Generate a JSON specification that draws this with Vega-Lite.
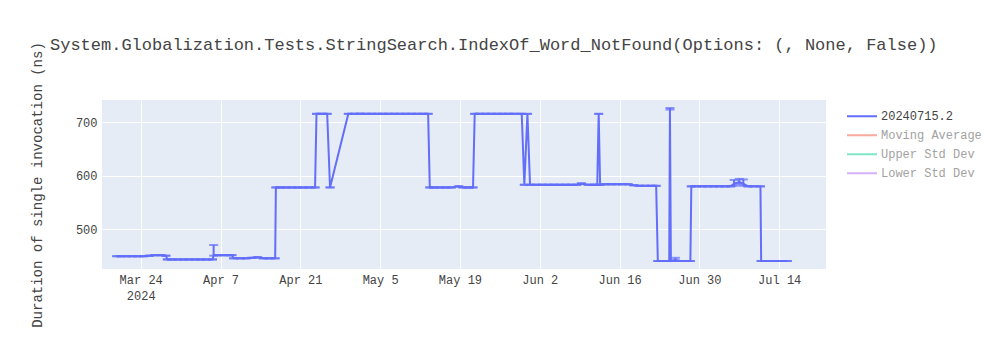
{
 "$schema": "https://vega.github.io/schema/vega-lite/v6.json",
 "width": 724,
 "height": 169,
 "autosize": {"type": "none"},
 "padding": {"left": 102, "top": 100, "right": 174, "bottom": 81},
 "background": "white",
 "config": {"view": {"fill": "#E5ECF6", "stroke": null}, "font": "Liberation Mono"},
 "title": {"text": "System.Globalization.Tests.StringSearch.IndexOf_Word_NotFound(Options: (, None, False))", "anchor": "start", "frame": "group", "font": "Liberation Mono", "fontSize": 17, "fontWeight": "normal", "color": "#444", "dx": -52, "offset": 0, "dy": 25, "baseline": "alphabetic"},
 "data": {"values": [
  {"t": "2024-03-19T19:00", "v": 449, "lo": 449, "hi": 449},
  {"t": "2024-03-20T12:00", "v": 449, "lo": 449, "hi": 449},
  {"t": "2024-03-21T12:00", "v": 449, "lo": 449, "hi": 449},
  {"t": "2024-03-22T12:00", "v": 449, "lo": 449, "hi": 449},
  {"t": "2024-03-23T12:00", "v": 449, "lo": 449, "hi": 449},
  {"t": "2024-03-24T12:00", "v": 449, "lo": 449, "hi": 449},
  {"t": "2024-03-25T12:00", "v": 450, "lo": 450, "hi": 450},
  {"t": "2024-03-26T12:00", "v": 451, "lo": 451, "hi": 451},
  {"t": "2024-03-27T12:00", "v": 451, "lo": 451, "hi": 451},
  {"t": "2024-03-28T10:00", "v": 450, "lo": 450, "hi": 450},
  {"t": "2024-03-28T16:00", "v": 443, "lo": 443, "hi": 443},
  {"t": "2024-03-29T12:00", "v": 443, "lo": 443, "hi": 443},
  {"t": "2024-03-30T12:00", "v": 443, "lo": 443, "hi": 443},
  {"t": "2024-03-31T12:00", "v": 443, "lo": 443, "hi": 443},
  {"t": "2024-04-01T12:00", "v": 443, "lo": 443, "hi": 443},
  {"t": "2024-04-02T12:00", "v": 443, "lo": 443, "hi": 443},
  {"t": "2024-04-03T12:00", "v": 443, "lo": 443, "hi": 443},
  {"t": "2024-04-04T12:00", "v": 443, "lo": 443, "hi": 443},
  {"t": "2024-04-05T14:00", "v": 443, "lo": 443, "hi": 443},
  {"t": "2024-04-05T19:00", "v": 451, "lo": 450, "hi": 470},
  {"t": "2024-04-06T12:00", "v": 451, "lo": 451, "hi": 451},
  {"t": "2024-04-07T12:00", "v": 451, "lo": 451, "hi": 451},
  {"t": "2024-04-08T12:00", "v": 451, "lo": 451, "hi": 451},
  {"t": "2024-04-09T00:00", "v": 451, "lo": 451, "hi": 451},
  {"t": "2024-04-09T07:00", "v": 445, "lo": 445, "hi": 445},
  {"t": "2024-04-10T12:00", "v": 445, "lo": 445, "hi": 445},
  {"t": "2024-04-11T12:00", "v": 445, "lo": 445, "hi": 445},
  {"t": "2024-04-12T12:00", "v": 446, "lo": 446, "hi": 446},
  {"t": "2024-04-13T12:00", "v": 447, "lo": 447, "hi": 447},
  {"t": "2024-04-14T12:00", "v": 445, "lo": 445, "hi": 445},
  {"t": "2024-04-15T12:00", "v": 445, "lo": 445, "hi": 445},
  {"t": "2024-04-16T14:00", "v": 445, "lo": 445, "hi": 445},
  {"t": "2024-04-16T17:00", "v": 578, "lo": 578, "hi": 578},
  {"t": "2024-04-17T12:00", "v": 578, "lo": 578, "hi": 578},
  {"t": "2024-04-18T12:00", "v": 578, "lo": 578, "hi": 578},
  {"t": "2024-04-19T12:00", "v": 578, "lo": 578, "hi": 578},
  {"t": "2024-04-20T12:00", "v": 578, "lo": 578, "hi": 578},
  {"t": "2024-04-21T12:00", "v": 578, "lo": 578, "hi": 578},
  {"t": "2024-04-22T12:00", "v": 578, "lo": 578, "hi": 578},
  {"t": "2024-04-23T14:00", "v": 578, "lo": 578, "hi": 578},
  {"t": "2024-04-23T20:00", "v": 716, "lo": 716, "hi": 716},
  {"t": "2024-04-24T19:00", "v": 716, "lo": 716, "hi": 716},
  {"t": "2024-04-25T17:00", "v": 716, "lo": 716, "hi": 716},
  {"t": "2024-04-26T05:00", "v": 578, "lo": 578, "hi": 578},
  {"t": "2024-04-29T10:00", "v": 716, "lo": 716, "hi": 716},
  {"t": "2024-04-30T12:00", "v": 716, "lo": 716, "hi": 716},
  {"t": "2024-05-01T12:00", "v": 716, "lo": 716, "hi": 716},
  {"t": "2024-05-02T12:00", "v": 716, "lo": 716, "hi": 716},
  {"t": "2024-05-03T12:00", "v": 716, "lo": 716, "hi": 716},
  {"t": "2024-05-04T12:00", "v": 716, "lo": 716, "hi": 716},
  {"t": "2024-05-05T12:00", "v": 716, "lo": 716, "hi": 716},
  {"t": "2024-05-06T12:00", "v": 716, "lo": 716, "hi": 716},
  {"t": "2024-05-07T12:00", "v": 716, "lo": 716, "hi": 716},
  {"t": "2024-05-08T12:00", "v": 716, "lo": 716, "hi": 716},
  {"t": "2024-05-09T12:00", "v": 716, "lo": 716, "hi": 716},
  {"t": "2024-05-10T12:00", "v": 716, "lo": 716, "hi": 716},
  {"t": "2024-05-11T12:00", "v": 716, "lo": 716, "hi": 716},
  {"t": "2024-05-12T12:00", "v": 716, "lo": 716, "hi": 716},
  {"t": "2024-05-13T10:00", "v": 716, "lo": 716, "hi": 716},
  {"t": "2024-05-13T17:00", "v": 578, "lo": 578, "hi": 578},
  {"t": "2024-05-14T12:00", "v": 578, "lo": 578, "hi": 578},
  {"t": "2024-05-15T12:00", "v": 578, "lo": 578, "hi": 578},
  {"t": "2024-05-16T12:00", "v": 578, "lo": 578, "hi": 578},
  {"t": "2024-05-17T12:00", "v": 578, "lo": 578, "hi": 578},
  {"t": "2024-05-18T19:00", "v": 580, "lo": 580, "hi": 580},
  {"t": "2024-05-19T12:00", "v": 578, "lo": 578, "hi": 578},
  {"t": "2024-05-20T12:00", "v": 578, "lo": 578, "hi": 578},
  {"t": "2024-05-21T07:00", "v": 578, "lo": 578, "hi": 578},
  {"t": "2024-05-21T14:00", "v": 716, "lo": 716, "hi": 716},
  {"t": "2024-05-22T12:00", "v": 716, "lo": 716, "hi": 716},
  {"t": "2024-05-23T12:00", "v": 716, "lo": 716, "hi": 716},
  {"t": "2024-05-24T12:00", "v": 716, "lo": 716, "hi": 716},
  {"t": "2024-05-25T12:00", "v": 716, "lo": 716, "hi": 716},
  {"t": "2024-05-26T12:00", "v": 716, "lo": 716, "hi": 716},
  {"t": "2024-05-27T12:00", "v": 716, "lo": 716, "hi": 716},
  {"t": "2024-05-28T12:00", "v": 716, "lo": 716, "hi": 716},
  {"t": "2024-05-29T20:00", "v": 716, "lo": 716, "hi": 716},
  {"t": "2024-05-30T07:00", "v": 583, "lo": 583, "hi": 583},
  {"t": "2024-05-30T20:00", "v": 716, "lo": 716, "hi": 716},
  {"t": "2024-05-31T07:00", "v": 583, "lo": 583, "hi": 583},
  {"t": "2024-06-01T12:00", "v": 583, "lo": 583, "hi": 583},
  {"t": "2024-06-02T12:00", "v": 583, "lo": 583, "hi": 583},
  {"t": "2024-06-03T12:00", "v": 583, "lo": 583, "hi": 583},
  {"t": "2024-06-04T12:00", "v": 583, "lo": 583, "hi": 583},
  {"t": "2024-06-05T12:00", "v": 583, "lo": 583, "hi": 583},
  {"t": "2024-06-06T12:00", "v": 583, "lo": 583, "hi": 583},
  {"t": "2024-06-07T12:00", "v": 583, "lo": 583, "hi": 583},
  {"t": "2024-06-08T12:00", "v": 583, "lo": 583, "hi": 583},
  {"t": "2024-06-09T07:00", "v": 585, "lo": 585, "hi": 586},
  {"t": "2024-06-10T12:00", "v": 583, "lo": 583, "hi": 583},
  {"t": "2024-06-11T12:00", "v": 583, "lo": 583, "hi": 583},
  {"t": "2024-06-12T02:00", "v": 583, "lo": 583, "hi": 583},
  {"t": "2024-06-12T08:00", "v": 716, "lo": 716, "hi": 716},
  {"t": "2024-06-12T14:00", "v": 583, "lo": 583, "hi": 583},
  {"t": "2024-06-13T12:00", "v": 584, "lo": 584, "hi": 584},
  {"t": "2024-06-14T12:00", "v": 584, "lo": 584, "hi": 584},
  {"t": "2024-06-15T12:00", "v": 584, "lo": 584, "hi": 584},
  {"t": "2024-06-16T12:00", "v": 584, "lo": 584, "hi": 584},
  {"t": "2024-06-17T12:00", "v": 584, "lo": 584, "hi": 584},
  {"t": "2024-06-18T12:00", "v": 582, "lo": 582, "hi": 582},
  {"t": "2024-06-19T12:00", "v": 581, "lo": 581, "hi": 581},
  {"t": "2024-06-20T12:00", "v": 581, "lo": 581, "hi": 581},
  {"t": "2024-06-21T12:00", "v": 581, "lo": 581, "hi": 581},
  {"t": "2024-06-22T10:00", "v": 581, "lo": 581, "hi": 581},
  {"t": "2024-06-22T17:00", "v": 440, "lo": 440, "hi": 440},
  {"t": "2024-06-23T12:00", "v": 440, "lo": 440, "hi": 440},
  {"t": "2024-06-24T07:00", "v": 440, "lo": 440, "hi": 440},
  {"t": "2024-06-24T17:00", "v": 440, "lo": 440, "hi": 440},
  {"t": "2024-06-24T20:00", "v": 725, "lo": 724, "hi": 727},
  {"t": "2024-06-25T00:00", "v": 440, "lo": 440, "hi": 440},
  {"t": "2024-06-25T19:00", "v": 442, "lo": 441, "hi": 446},
  {"t": "2024-06-26T12:00", "v": 440, "lo": 440, "hi": 440},
  {"t": "2024-06-27T12:00", "v": 440, "lo": 440, "hi": 440},
  {"t": "2024-06-28T10:00", "v": 440, "lo": 440, "hi": 440},
  {"t": "2024-06-28T14:00", "v": 580, "lo": 580, "hi": 580},
  {"t": "2024-06-29T12:00", "v": 580, "lo": 580, "hi": 580},
  {"t": "2024-06-30T12:00", "v": 580, "lo": 580, "hi": 580},
  {"t": "2024-07-01T12:00", "v": 580, "lo": 580, "hi": 580},
  {"t": "2024-07-02T12:00", "v": 580, "lo": 580, "hi": 580},
  {"t": "2024-07-03T12:00", "v": 580, "lo": 580, "hi": 580},
  {"t": "2024-07-04T12:00", "v": 580, "lo": 580, "hi": 580},
  {"t": "2024-07-05T12:00", "v": 580, "lo": 580, "hi": 580},
  {"t": "2024-07-06T02:00", "v": 585, "lo": 581, "hi": 592},
  {"t": "2024-07-07T00:00", "v": 588, "lo": 584, "hi": 594},
  {"t": "2024-07-07T17:00", "v": 585, "lo": 581, "hi": 593},
  {"t": "2024-07-08T12:00", "v": 580, "lo": 580, "hi": 580},
  {"t": "2024-07-09T12:00", "v": 580, "lo": 580, "hi": 580},
  {"t": "2024-07-10T17:00", "v": 580, "lo": 580, "hi": 580},
  {"t": "2024-07-10T20:00", "v": 440, "lo": 440, "hi": 440},
  {"t": "2024-07-11T12:00", "v": 440, "lo": 440, "hi": 440},
  {"t": "2024-07-12T12:00", "v": 440, "lo": 440, "hi": 440},
  {"t": "2024-07-13T12:00", "v": 440, "lo": 440, "hi": 440},
  {"t": "2024-07-14T12:00", "v": 440, "lo": 440, "hi": 440},
  {"t": "2024-07-15T10:00", "v": 440, "lo": 440, "hi": 440}
 ]},
 "layer": [
  {
   "mark": {"type": "line", "strokeWidth": 2},
   "encoding": {
    "x": {"field": "t", "type": "temporal", "title": null,
     "scale": {"domain": [{"year": 2024, "month": 3, "date": 17, "hours": 5}, {"year": 2024, "month": 7, "date": 22, "hours": 5}]},
     "axis": {"values": [{"year": 2024, "month": 3, "date": 24}, {"year": 2024, "month": 4, "date": 7}, {"year": 2024, "month": 4, "date": 21}, {"year": 2024, "month": 5, "date": 5}, {"year": 2024, "month": 5, "date": 19}, {"year": 2024, "month": 6, "date": 2}, {"year": 2024, "month": 6, "date": 16}, {"year": 2024, "month": 6, "date": 30}, {"year": 2024, "month": 7, "date": 14}],
      "labelExpr": "month(datum.value) == 2 && date(datum.value) == 24 ? [timeFormat(datum.value, '%b %-d'), '2024'] : timeFormat(datum.value, '%b %-d')",
      "labelFont": "Liberation Mono", "labelFontSize": 12, "labelColor": "#444", "labelLineHeight": 16,
      "ticks": false, "tickSize": 0, "domain": false, "labelPadding": 5, "gridColor": "white", "gridWidth": 1, "labelFlush": false}},
    "y": {"field": "v", "type": "quantitative", "title": "Duration of single invocation (ns)",
     "scale": {"domain": [425, 742], "zero": false, "nice": false},
     "axis": {"values": [500, 600, 700], "labelFont": "Liberation Mono", "labelFontSize": 12, "labelColor": "#444",
      "ticks": false, "tickSize": 0, "domain": false, "labelPadding": 5, "gridColor": "white", "gridWidth": 1,
      "titleFont": "Liberation Mono", "titleFontSize": 14, "titleFontWeight": "normal", "titleColor": "#444",
      "titleX": -65, "titleY": 84.5, "titleAngle": -90, "titleAlign": "center", "titleBaseline": "middle"}},
    "color": {"datum": "20240715.2", "type": "nominal",
     "scale": {"domain": ["20240715.2", "Moving Average", "Upper Std Dev", "Lower Std Dev"], "range": ["#636efa", "#f7aa9d", "#80e6ca", "#d5b1fc"]},
     "legend": {"orient": "none", "legendX": 744, "legendY": 7, "title": null, "padding": 0,
      "labelFont": "Liberation Mono", "labelFontSize": 12,
      "labelColor": {"expr": "datum.value === '20240715.2' ? '#444' : '#a2a2a2'"},
      "symbolType": "stroke", "symbolSize": 900, "symbolStrokeWidth": 2, "labelOffset": 3, "rowPadding": 0, "clipHeight": 18.5}}
   }
  },
  {
   "mark": {"type": "errorbar", "ticks": {"size": 9}, "thickness": 2, "color": "#636efa"},
   "encoding": {
    "x": {"field": "t", "type": "temporal"},
    "y": {"field": "lo", "type": "quantitative", "title": "Duration of single invocation (ns)"},
    "y2": {"field": "hi"}
   }
  }
 ]
}
